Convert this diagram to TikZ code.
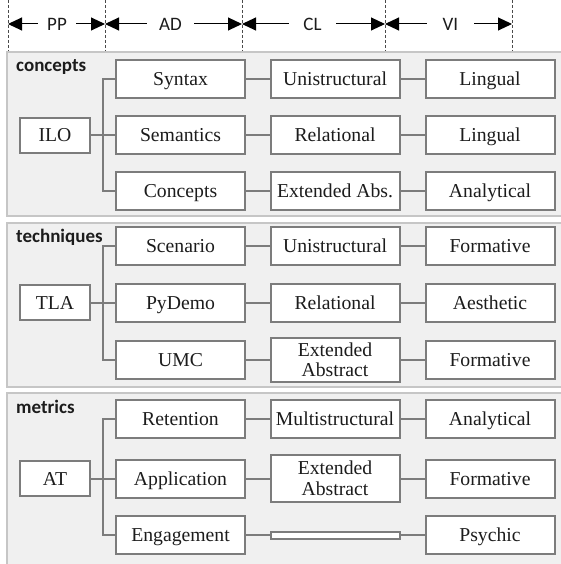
\documentclass[tikz,border=0pt]{standalone}
\usepackage{fontspec}
\setmainfont{Liberation Serif}
\newfontfamily\hdrfont{Carlito}
\usetikzlibrary{arrows.meta}

\definecolor{panelfill}{HTML}{F0F0F0}
\definecolor{panelline}{HTML}{C6C6C6}
\definecolor{boxline}{HTML}{7C7C7C}
\definecolor{inktext}{HTML}{1C1C1C}
\definecolor{dashgray}{HTML}{4A4A4A}

\begin{document}
\begin{tikzpicture}[x=1pt,y=-1pt,
  panel/.style={draw=panelline,line width=2pt,fill=panelfill},
  paneltitle/.style={anchor=base west,inner sep=0pt,text=inktext,
    font=\hdrfont\bfseries\fontsize{19}{19}\selectfont},
  box/.style={draw=boxline,line width=2pt,fill=white,inner sep=0pt,align=center,
    text=inktext,font=\fontsize{19.7}{20.5}\selectfont},
  onel/.style={box,text height=13pt,text depth=0pt},
  rootbox/.style={onel,minimum width=70pt,minimum height=35pt},
  leafbox/.style={onel,minimum width=129pt,minimum height=38pt},
  twobox/.style={box,minimum width=129pt,minimum height=44pt},
  conn/.style={draw=boxline,line width=2pt},
  hdr/.style={inner sep=0pt,text=inktext,text height=12.2pt,text depth=0pt,
    font=\hdrfont\fontsize{19}{19}\selectfont},
  harrow/.style={draw=black,line width=1pt,-{Triangle[length=14pt,width=13pt]}},
  dashln/.style={draw=dashgray,line width=1pt,dash pattern=on 3pt off 2pt}
]
\useasboundingbox (0,0) rectangle (561,564);
\clip (0,0) rectangle (561,564);

% column dividers of the header
\foreach \x in {8,105,242,385,512}
  \draw[dashln] (\x,0) -- (\x,51);
\coordinate (d0) at (8,24);
\coordinate (d1) at (105,24);
\coordinate (d2) at (242,24);
\coordinate (d3) at (385,24);
\coordinate (d4) at (512,24);

\node[hdr,minimum width=38pt] (pp) at (57,24) {PP};
\node[hdr,minimum width=47pt] (ad) at (170.5,24) {AD};
\node[hdr,minimum width=47pt] (cl) at (312.5,24) {CL};
\node[hdr,minimum width=47pt] (vi) at (450.5,24) {VI};
\draw[harrow] (pp.west) -- (d0);
\draw[harrow] (pp.east) -- (d1);
\draw[harrow] (ad.west) -- (d1);
\draw[harrow] (ad.east) -- (d2);
\draw[harrow] (cl.west) -- (d2);
\draw[harrow] (cl.east) -- (d3);
\draw[harrow] (vi.west) -- (d3);
\draw[harrow] (vi.east) -- (d4);

% three panels
\draw[panel] (7,52) rectangle (566,216);
\draw[panel] (7,223) rectangle (566,387);
\draw[panel] (7,393) rectangle (566,575);
\node[paneltitle] (t1) at (16,72) {concepts};
\node[paneltitle] (t2) at (16,242) {techniques};
\node[paneltitle] (t3) at (16,413) {metrics};

% ---- concepts ----
\node[rootbox] (ilo) at (55,135.5) {ILO};
\coordinate (b1) at (103,135.5);
\node[leafbox] (syn) at (180.5,79) {Syntax};
\node[leafbox] (sem) at (180.5,135.5) {Semantics};
\node[leafbox] (cpt) at (180.5,191) {Concepts};
\node[leafbox] (uni1) at (335,79) {Unistructural};
\node[leafbox] (rel1) at (335,135.5) {Relational};
\node[leafbox] (ext1) at (335,191) {Extended Abs.};
\node[leafbox] (lin1) at (490,79) {Lingual};
\node[leafbox] (lin2) at (490,135.5) {Lingual};
\node[leafbox] (ana1) at (490,191) {Analytical};
\draw[conn] (ilo) -- (b1);
\draw[conn] (syn.west) -| (b1) |- (cpt.west);
\draw[conn] (b1) -- (sem.west);
\draw[conn] (syn) -- (uni1);
\draw[conn] (sem) -- (rel1);
\draw[conn] (cpt) -- (ext1);
\draw[conn] (uni1) -- (lin1);
\draw[conn] (rel1) -- (lin2);
\draw[conn] (ext1) -- (ana1);

% ---- techniques ----
\node[rootbox] (tla) at (55,302.5) {TLA};
\coordinate (b2) at (103,302.5);
\node[leafbox] (scn) at (180.5,246) {Scenario};
\node[leafbox] (pyd) at (180.5,302.5) {PyDemo};
\node[leafbox] (umc) at (180.5,360) {UMC};
\node[leafbox] (uni2) at (335,246) {Unistructural};
\node[leafbox] (rel2) at (335,302.5) {Relational};
\node[twobox] (ext2) at (335,360) {Extended\\Abstract};
\node[leafbox] (frm1) at (490,246) {Formative};
\node[leafbox] (aes) at (490,302.5) {Aesthetic};
\node[leafbox] (frm2) at (490,360) {Formative};
\draw[conn] (tla) -- (b2);
\draw[conn] (scn.west) -| (b2) |- (umc.west);
\draw[conn] (b2) -- (pyd.west);
\draw[conn] (scn) -- (uni2);
\draw[conn] (pyd) -- (rel2);
\draw[conn] (umc) -- (ext2);
\draw[conn] (uni2) -- (frm1);
\draw[conn] (rel2) -- (aes);
\draw[conn] (ext2) -- (frm2);

% ---- metrics ----
\node[rootbox] (at) at (55,478.5) {AT};
\coordinate (b3) at (103,478.5);
\node[leafbox] (ret) at (180.5,419) {Retention};
\node[leafbox] (app) at (180.5,478.5) {Application};
\node[leafbox] (eng) at (180.5,535) {Engagement};
\node[leafbox] (mul) at (335,419) {Multistructural};
\node[twobox,minimum height=47pt] (ext3) at (335,478.5) {Extended\\Abstract};
\node[box,minimum width=129pt,minimum height=7pt] (blank) at (335,535) {};
\node[leafbox] (ana2) at (490,419) {Analytical};
\node[leafbox] (frm3) at (490,478.5) {Formative};
\node[leafbox] (psy) at (490,535) {Psychic};
\draw[conn] (at) -- (b3);
\draw[conn] (ret.west) -| (b3) |- (eng.west);
\draw[conn] (b3) -- (app.west);
\draw[conn] (ret) -- (mul);
\draw[conn] (app) -- (ext3);
\draw[conn] (eng) -- (blank);
\draw[conn] (mul) -- (ana2);
\draw[conn] (ext3) -- (frm3);
\draw[conn] (blank) -- (psy);
\end{tikzpicture}
\end{document}
